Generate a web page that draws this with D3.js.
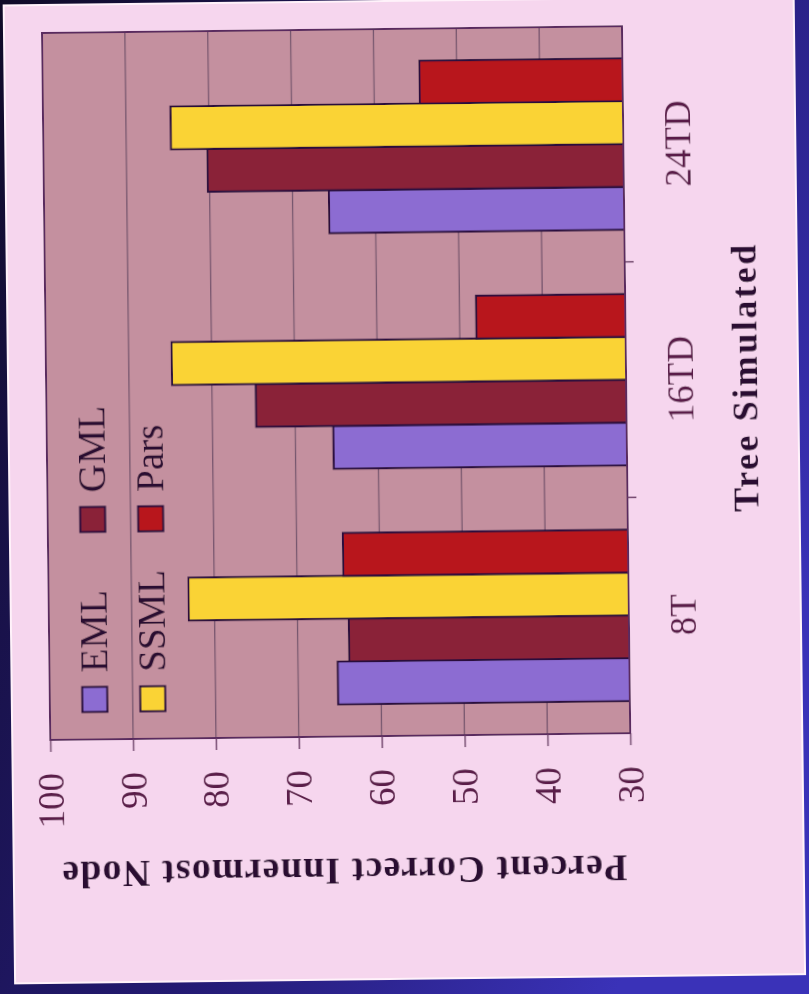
<!DOCTYPE html>
<html>
<head>
<meta charset="utf-8">
<script src="https://cdn.jsdelivr.net/npm/d3@7"></script>
<style>
  html, body { margin: 0; padding: 0; background: #17123a; }
  svg { display: block; }
  text { font-family: "Liberation Serif", "Times New Roman", serif; }
</style>
</head>
<body>
<svg id="chart" width="809" height="994"></svg>
<script>
// Categories (trees simulated) and the four estimation methods
const categories = ["8T", "16TD", "24TD"];
const seriesNames = ["EML", "GML", "SSML", "Pars"];

// Percent correct innermost node, one value per tree
const emlValues  = [65.2, 65.4, 65.6];
const gmlValues  = [63.8, 74.7, 80.2];
const ssmlValues = [83.1, 84.8, 84.6];
const parsValues = [64.4, 48.0, 54.5];

// Value axis ticks
const valueTicks = [100, 90, 80, 70, 60, 50, 40, 30];

const seriesColors = {
  EML:  "#8c6cd2",
  GML:  "#8a2238",
  SSML: "#fad334",
  Pars: "#b8161a"
};

const seriesValues = { EML: emlValues, GML: gmlValues, SSML: ssmlValues, Pars: parsValues };

const W = 809, H = 994;
const plotW = 580, plotH = 707;

const svg = d3.select("#chart");

const defs = svg.append("defs");
// dark projection surround, darker at the left, bluer at the right
const grad = defs.append("linearGradient").attr("id", "surround")
  .attr("x1", "0%").attr("y1", "0%").attr("x2", "100%").attr("y2", "60%");
grad.append("stop").attr("offset", "0%").attr("stop-color", "#100b28");
grad.append("stop").attr("offset", "60%").attr("stop-color", "#231a72");
grad.append("stop").attr("offset", "100%").attr("stop-color", "#3a32b8");
// slight softness of the projected slide
defs.append("filter").attr("id", "soft")
  .attr("x", "-2%").attr("y", "-2%").attr("width", "104%").attr("height", "104%")
  .append("feGaussianBlur").attr("stdDeviation", 0.5);

svg.append("rect").attr("width", W).attr("height", H).attr("fill", "url(#surround)");

// the whole slide sits at a slight tilt; the value axis runs horizontally
const frame = svg.append("g")
  .attr("transform", "translate(42,33) rotate(-0.67)")
  .attr("filter", "url(#soft)");

// slide background
frame.append("rect")
  .attr("x", -38).attr("y", -28).attr("width", 790).attr("height", 978)
  .attr("fill", "#f6d6ee").attr("stroke", "#fff2fa").attr("stroke-width", 2);

// scales: value runs left (100) to right (30); categories top (24TD) to bottom (8T)
const x = d3.scaleLinear().domain([100, 30]).range([0, plotW]);
const yCat = d3.scaleBand().domain(categories.slice().reverse()).range([0, plotH]);
const ySer = d3.scaleBand().domain(seriesNames.slice().reverse())
  .range([0, yCat.bandwidth()]).paddingInner(0).paddingOuter(0.75);

// plot area
frame.append("rect")
  .attr("width", plotW).attr("height", plotH)
  .attr("fill", "#c4909f");

// gridlines
frame.append("g").selectAll("line")
  .data(valueTicks.filter(t => t !== 100 && t !== 30))
  .join("line")
  .attr("x1", d => x(d)).attr("x2", d => x(d))
  .attr("y1", 0).attr("y2", plotH)
  .attr("stroke", "#76566e").attr("stroke-width", 1.3);

// bars
const groups = frame.append("g").selectAll("g")
  .data(categories)
  .join("g")
  .attr("transform", d => `translate(0,${yCat(d)})`);

groups.selectAll("rect")
  .data((c, i) => seriesNames.map(s => ({ series: s, value: seriesValues[s][i] })))
  .join("rect")
  .attr("x", d => x(d.value))
  .attr("y", d => ySer(d.series))
  .attr("width", d => x(30) - x(d.value))
  .attr("height", ySer.bandwidth())
  .attr("fill", d => seriesColors[d.series])
  .attr("stroke", "#2a0f3c").attr("stroke-width", 2);

// plot border
frame.append("rect")
  .attr("width", plotW).attr("height", plotH)
  .attr("fill", "none").attr("stroke", "#5a2a5e").attr("stroke-width", 2);

// value axis (below the plot)
const valueAxis = frame.append("g")
  .attr("transform", `translate(0,${plotH})`)
  .call(d3.axisBottom(x).tickValues(valueTicks).tickSize(12).tickFormat(d3.format("d")));
valueAxis.select(".domain").remove();
valueAxis.selectAll(".tick line").attr("stroke", "#6a3a66").attr("stroke-width", 1.5);
valueAxis.selectAll(".tick text")
  .attr("transform", "rotate(-90)")
  .attr("x", -33).attr("y", 0).attr("dy", "0.33em")
  .attr("text-anchor", "end")
  .attr("font-size", 37)
  .attr("fill", "#5a1e48");

// category axis (right of the plot)
const catAxis = frame.append("g")
  .attr("transform", `translate(${plotW},0)`)
  .call(d3.axisRight(yCat).tickSize(0));
catAxis.select(".domain").remove();
catAxis.selectAll(".tick text")
  .attr("transform", "rotate(-90)")
  .attr("x", 0).attr("y", 54.7).attr("dy", "0.33em")
  .attr("text-anchor", "middle")
  .attr("font-size", 37)
  .attr("fill", "#5a1e48");

// boundary ticks between categories
frame.append("g").selectAll("line")
  .data(categories.slice(1))
  .join("line")
  .attr("x1", plotW).attr("x2", plotW + 9)
  .attr("y1", d => yCat(d) + yCat.bandwidth())
  .attr("y2", d => yCat(d) + yCat.bandwidth())
  .attr("stroke", "#6a3a66").attr("stroke-width", 1.5);

// axis titles
frame.append("text")
  .attr("transform", `translate(699,${plotH / 2}) rotate(-90)`)
  .attr("dy", "0.33em")
  .attr("text-anchor", "middle")
  .attr("font-size", 36).attr("font-weight", "bold")
  .attr("textLength", 267).attr("lengthAdjust", "spacing")
  .attr("fill", "#2c1030")
  .text("Tree Simulated");

frame.append("text")
  .attr("transform", `translate(${plotW / 2 + 3},842) rotate(180)`)
  .attr("dy", "0.33em")
  .attr("text-anchor", "middle")
  .attr("font-size", 38).attr("font-weight", "bold")
  .attr("textLength", 565).attr("lengthAdjust", "spacing")
  .attr("fill", "#2c1030")
  .text("Percent Correct Innermost Node");

// legend inside the plot
const legendRowU = [45, 103];
const legendColV = [667, 487];
const legend = frame.append("g").selectAll("g")
  .data(seriesNames)
  .join("g")
  .attr("transform", (d, i) => `translate(${legendRowU[Math.floor(i / 2)]},${legendColV[i % 2]})`);
legend.append("rect")
  .attr("x", -12.5).attr("y", -12.5).attr("width", 25).attr("height", 25)
  .attr("fill", d => seriesColors[d])
  .attr("stroke", "#2a0f3c").attr("stroke-width", 2);
legend.append("text")
  .attr("transform", "translate(0,-27) rotate(-90)")
  .attr("dy", "0.33em")
  .attr("text-anchor", "start")
  .attr("font-size", 39)
  .attr("fill", "#2c1030")
  .text(d => d);
</script>
</body>
</html>
